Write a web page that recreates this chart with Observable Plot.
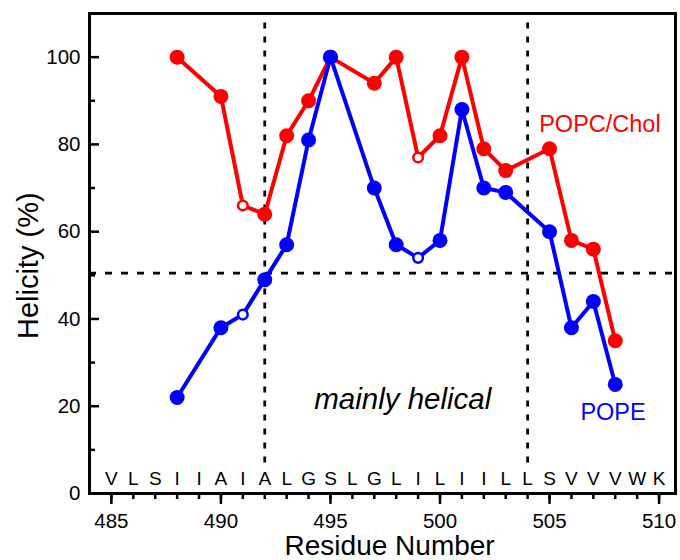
<!DOCTYPE html>
<html><head><meta charset="utf-8">
<script src="https://cdn.jsdelivr.net/npm/d3@7"></script>
<script src="https://cdn.jsdelivr.net/npm/@observablehq/plot@0.6"></script>
<style>html,body{margin:0;padding:0;background:#fff;overflow:hidden;font-family:"Liberation Sans",Arial,sans-serif}#chart svg{display:block}</style>
</head><body><div id="chart"></div>
<script>
const residues = [488,490,491,492,493,494,495,497,498,499,500,501,502,503,505,506,507,508];
const popcChol = [100,91,66,64,82,90,100,94,100,77,82,100,79,74,79,58,56,35];
const pope     = [22,38,41,49,57,81,100,70,57,54,58,88,70,69,60,38,44,25];
const openResidues = [491,499];
const seqStart = 485;
const sequence = ["V","L","S","I","I","A","I","A","L","G","S","L","G","L","I","L","I","I","L","L","S","V","V","V","W","K"];
const vLines = [492,504];
const hLine = 50.5;
const majorXTicks = [485,490,495,500,505,510];
const minorXTicks = d3.range(485,511);
const yTicks = [0,20,40,60,80,100];
const minorYTicks = [10,30,50,70,90];
const xLabel = "Residue Number";
const yLabel = "Helicity (%)";

const rows = [];
residues.forEach((r,i)=>{
  rows.push({x:r,y:popcChol[i],s:"POPC/Chol",open:openResidues.includes(r)});
  rows.push({x:r,y:pope[i],s:"POPE",open:openResidues.includes(r)});
});
const seqRows = sequence.map((c,i)=>({x:seqStart+i,c}));
const colors = {"POPC/Chol":"#ff0000","POPE":"#0000ff"};

const W = 680, H = 560, ML = 89, MR = 5, MT = 13, MB = 67;
const inner = W - ML - MR;
const X0 = 484;

const chart = Plot.plot({
  width:W, height:H,
  marginLeft:ML, marginRight:MR, marginTop:MT, marginBottom:MB,
  style:{fontFamily:"Liberation Sans, Arial, sans-serif", background:"#fff", maxWidth:"none"},
  x:{domain:[X0,510.75], axis:null},
  y:{domain:[0,110], axis:null},
  marks:[
    Plot.ruleX(vLines,{x:d=>d,y1:7,y2:110,stroke:"#000",strokeWidth:2.8,strokeDasharray:"6,8"}),
    Plot.ruleY([hLine],{stroke:"#000",strokeWidth:2.8,strokeDasharray:"7,9"}),
    Plot.line(rows,{x:"x",y:"y",z:"s",stroke:d=>colors[d.s],strokeWidth:4}),
    Plot.dot(rows.filter(d=>!d.open),{x:"x",y:"y",r:7.5,fill:d=>colors[d.s],stroke:"none"}),
    Plot.dot(rows.filter(d=>d.open),{x:"x",y:"y",r:4.8,fill:"#fff",stroke:d=>colors[d.s],strokeWidth:2.5}),
    Plot.text(seqRows,{x:"x",y:3.4,text:"c",fontSize:19,fill:"#000"}),
    Plot.text(["mainly helical"],{x:498.3,y:21.5,text:d=>d,fontSize:29.5,fontStyle:"italic",fill:"#000"}),
    Plot.text(["POPC/Chol"],{x:507.3,y:84.6,text:d=>d,fontSize:23.5,fill:"#ff0000"}),
    Plot.text(["POPE"],{x:507.9,y:18.6,text:d=>d,fontSize:23.5,fill:"#0000ff"}),
    Plot.axisX(minorXTicks,{tickSize:6,text:null,strokeWidth:2.5,label:null}),
    Plot.axisX(majorXTicks,{tickSize:11,text:null,strokeWidth:2.5,label:null}),
    Plot.axisY(yTicks,{anchor:"right",tickSize:9,strokeWidth:2.5,text:null,label:null,dx:-inner}),
    Plot.axisY(minorYTicks,{anchor:"right",tickSize:5,strokeWidth:2.5,text:null,label:null,dx:-inner}),
    Plot.text(majorXTicks,{x:d=>d,y:0,dy:28,text:d=>String(d),fontSize:20.5,fill:"#000"}),
    Plot.text(yTicks,{x:X0,y:d=>d,dx:-9,textAnchor:"end",text:d=>String(d),fontSize:20.5,fill:"#000"}),
    Plot.text([xLabel],{x:497.7,y:0,dy:53,text:d=>d,fontSize:28,fill:"#000"}),
    Plot.text([yLabel],{x:X0,y:52.2,dx:-61,rotate:-90,text:d=>d,fontSize:29,fill:"#000"}),
    Plot.frame({stroke:"#000",strokeWidth:3})
  ]
});
document.getElementById("chart").appendChild(chart);
</script></body></html>
